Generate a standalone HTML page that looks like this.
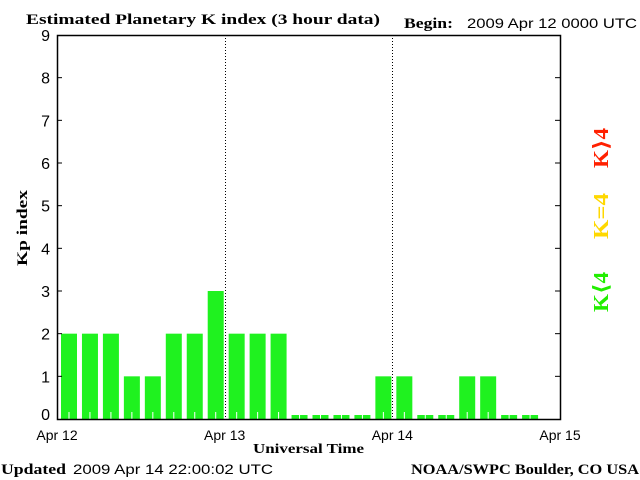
<!DOCTYPE html>
<html><head><meta charset="utf-8"><style>
body{margin:0;background:#fff;width:640px;height:480px;overflow:hidden}
svg{display:block}
.s{font-family:"Liberation Sans","DejaVu Sans",sans-serif}
.b{font-family:"Liberation Serif","DejaVu Serif",serif;font-weight:bold}
</style></head><body>
<svg id="c" width="640" height="480" xmlns="http://www.w3.org/2000/svg">
<text class="b" x="26" y="24" font-size="15" textLength="354" lengthAdjust="spacingAndGlyphs">Estimated Planetary K index (3 hour data)</text>
<text class="b" x="404" y="28" font-size="15" textLength="49" lengthAdjust="spacingAndGlyphs">Begin:</text>
<text class="s" x="467" y="28" font-size="14" textLength="170" lengthAdjust="spacingAndGlyphs">2009 Apr 12 0000 UTC</text>
<text class="b" x="1" y="474" font-size="15" textLength="65" lengthAdjust="spacingAndGlyphs">Updated</text>
<text class="s" x="73" y="474" font-size="14" textLength="200" lengthAdjust="spacingAndGlyphs">2009 Apr 14 22:00:02 UTC</text>
<text class="b" x="411" y="474" font-size="15" textLength="228" lengthAdjust="spacingAndGlyphs">NOAA/SWPC Boulder, CO USA</text>
<text class="b" x="253" y="453" font-size="14" textLength="111" lengthAdjust="spacingAndGlyphs">Universal Time</text>
<text class="b" x="0" y="0" font-size="15" text-anchor="middle" textLength="76" lengthAdjust="spacingAndGlyphs" transform="translate(27,228) rotate(-90)">Kp index</text>
<text class="b" x="0" y="0" font-size="21" text-anchor="middle" textLength="40" lengthAdjust="spacingAndGlyphs" fill="#ff2000" transform="translate(608,148) rotate(-90)">K⟩4</text>
<text class="b" x="0" y="0" font-size="21" text-anchor="middle" textLength="46" lengthAdjust="spacingAndGlyphs" fill="#ffd800" transform="translate(608,216) rotate(-90)">K=4</text>
<text class="b" x="0" y="0" font-size="21" text-anchor="middle" textLength="40" lengthAdjust="spacingAndGlyphs" fill="#22ee00" transform="translate(608,292) rotate(-90)">K⟨4</text>
<g id="bars"></g>
<g id="axes"></g>
</svg>
<script>
const kpValues=[2,2,2,1,1,2,2,3, 2,2,2,0,0,0,0,1, 1,0,0,1,1,0,0];
const yTicks=[0,1,2,3,4,5,6,7,8,9];
const dayLabels=["Apr 12","Apr 13","Apr 14","Apr 15"];
const NS="http://www.w3.org/2000/svg";
const L=57,R=560,T=35,B=419;
const slot=(R-L)/24;
function xs(i){return L+i*slot;}
function ys(v){return B-v*(B-T)/9;}
function mk(t,a,p){const e=document.createElementNS(NS,t);for(const k in a)e.setAttribute(k,a[k]);p.appendChild(e);return e;}
const bars=document.getElementById('bars'),axes=document.getElementById('axes');
kpValues.forEach((v,i)=>{
  const x=xs(i)+4,w=16;
  const top=v===0?B-4:ys(v);
  const col=v<4?"#1ff21f":(v===4?"#ffd800":"#ff2000");
  const r=mk('rect',{x:x,y:top,width:w,height:B-top,fill:col},bars);
  
  
  const t=mk('line',{x1:x+8,x2:x+8,y1:B-7,y2:B,stroke:"#fff","stroke-width":1},bars);
  
  
});
[1,2].forEach(d=>{
  const x=Math.round(L+d*slot*8)+0.5;
  const l=mk('line',{x1:x,x2:x,y1:T,y2:B,stroke:"#000","stroke-dasharray":"1,2"},axes);
  
  
});
const fr=mk('rect',{x:L+0.5,y:T+0.5,width:R-L,height:B-T,fill:"none",stroke:"#000","stroke-width":1.5},axes);


yTicks.forEach(v=>{
  const y=ys(v);
  if(v>0&&v<9){
    mk('line',{x1:L,x2:L+5,y1:y,y2:y,stroke:"#000"},axes);
    mk('line',{x1:R-5,x2:R,y1:y,y2:y,stroke:"#000"},axes);
  }
  const t=mk('text',{x:50,y:v===0?y+1:y+6,"font-size":16,"text-anchor":"end",class:"s"},axes);
  t.textContent=v;
  
  
});
dayLabels.forEach((s,d)=>{
  const t=mk('text',{x:L+d*slot*8,y:440,"font-size":14,"text-anchor":"middle",class:"s"},axes);
  t.textContent=s;
  
  
});
</script>
</body></html>
